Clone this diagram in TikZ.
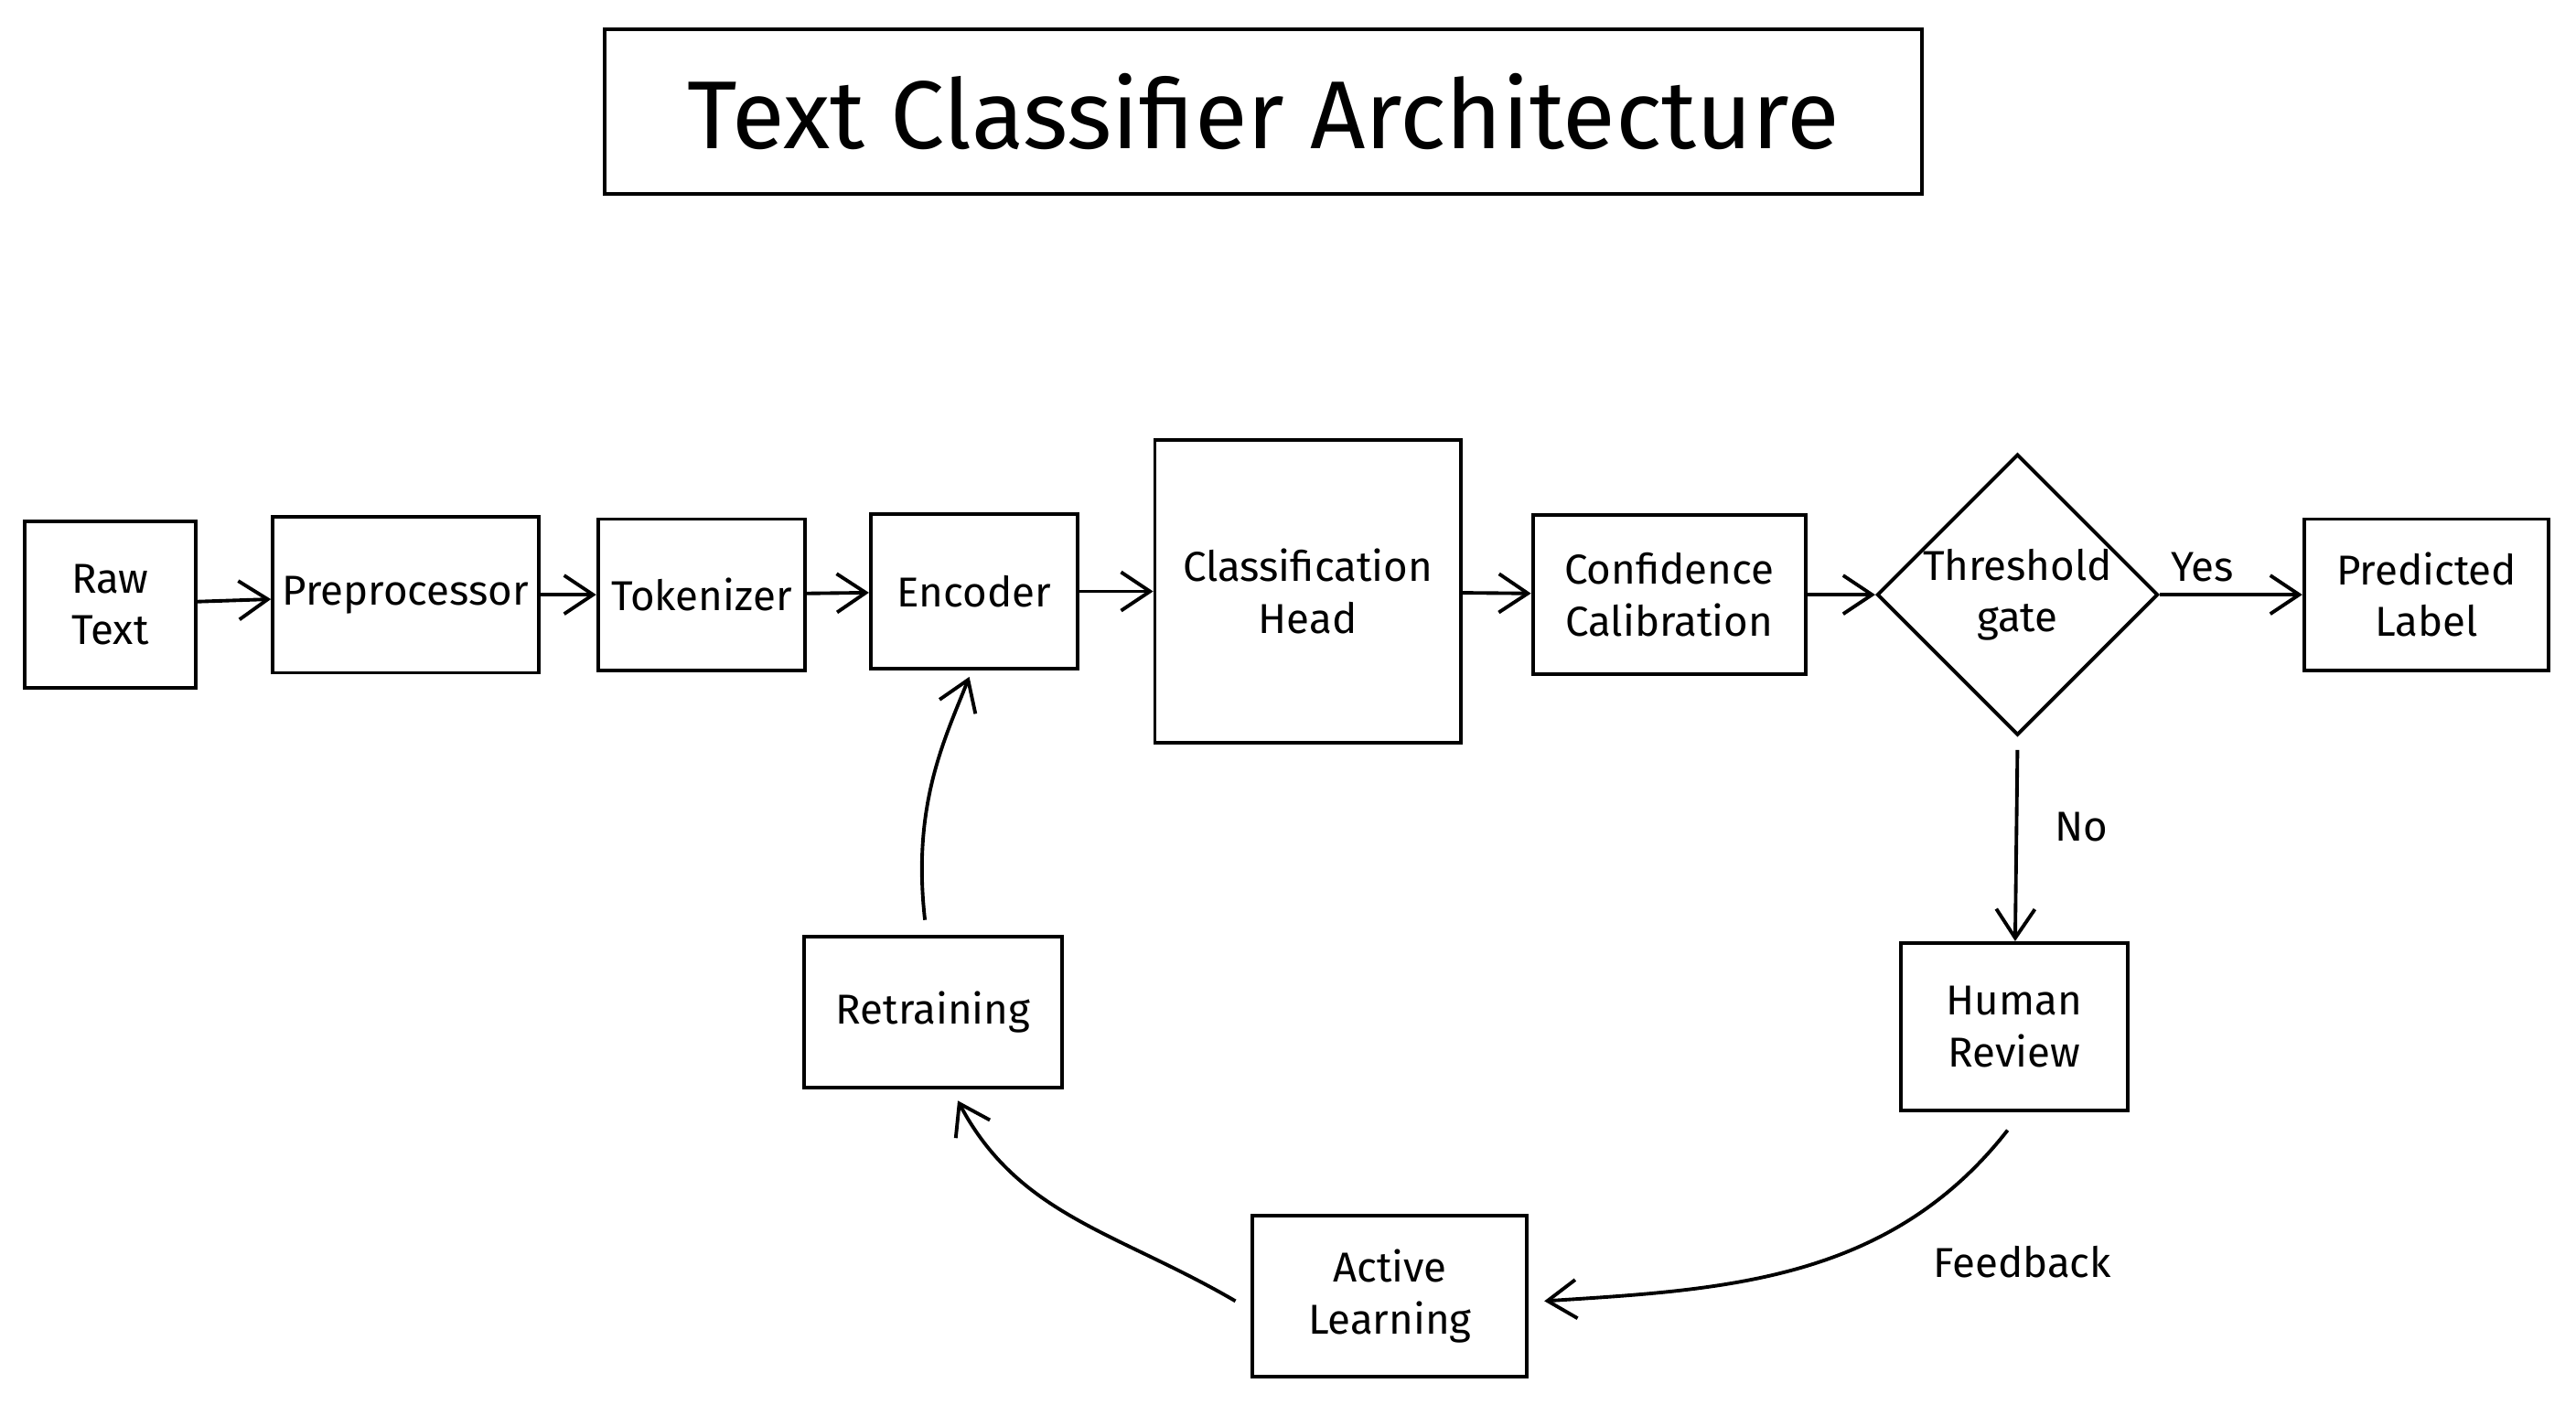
\documentclass[tikz,border=0pt]{standalone}
\usepackage{fontspec}
\setmainfont{Fira Sans}
\usetikzlibrary{arrows.meta,shapes.geometric}
\begin{document}
\begin{tikzpicture}[x=0.01796cm,y=-0.01796cm,
 box/.style={draw,line width=1.1pt,minimum width=#1,inner sep=2pt,align=center,font=\fontsize{13}{16}\selectfont},
 arr/.style={-{Straight Barb[length=9pt,width=12pt]},line width=1.1pt},
 lbl/.style={font=\fontsize{13}{16}\selectfont}]
\useasboundingbox (0,0) rectangle (1568,855);
\node[draw,line width=1.2pt,minimum width=802*0.01796cm,minimum height=100*0.01796cm,font=\fontsize{30}{36}\selectfont] (title) at (769,68) {Text Classifier Architecture};
\node[box=104*0.01796cm,minimum height=101*0.01796cm] (raw) at (67,368) {Raw\\Text};
\node[box=162*0.01796cm,minimum height=95*0.01796cm] (pre) at (247,362) {Preprocessor};
\node[box=126*0.01796cm,minimum height=92*0.01796cm] (tok) at (427,362) {Tokenizer};
\node[box=126*0.01796cm,minimum height=94*0.01796cm] (enc) at (593,360) {Encoder};
\node[box=186*0.01796cm,minimum height=184*0.01796cm] (cls) at (796,360) {Classification\\Head};
\node[box=166*0.01796cm,minimum height=97*0.01796cm] (conf) at (1016,362) {Confidence\\Calibration};
\node[draw,line width=1.1pt,diamond,minimum width=170*0.01796cm,minimum height=160*0.01796cm,inner sep=0pt,align=center,font=\fontsize{13}{16}\selectfont] (gate) at (1228,362) {Threshold\\gate};
\node[box=149*0.01796cm,minimum height=92*0.01796cm] (pred) at (1477,362) {Predicted\\Label};
\node[box=138*0.01796cm,minimum height=102*0.01796cm] (hum) at (1226,625) {Human\\Review};
\node[box=167*0.01796cm,minimum height=98*0.01796cm] (act) at (846,789) {Active\\Learning};
\node[box=157*0.01796cm,minimum height=92*0.01796cm] (ret) at (568,616) {Retraining};
\draw[arr] (raw) -- (pre);
\draw[arr] (pre) -- (tok);
\draw[arr] (tok) -- (enc);
\draw[arr] (enc) -- (cls);
\draw[arr] (cls) -- (conf);
\draw[arr] (conf) -- (gate);
\draw[arr] (gate) -- node[lbl,above,pos=0.3] {Yes} (pred);
\draw[arr] (gate.south) ++(0,8) coordinate (gs) (gs) -- node[lbl,right,xshift=8pt,pos=0.4] {No} (hum);
\coordinate (h1) at (1222,688);
\coordinate (a1) at (940,792);
\draw[arr] (h1) .. controls (1150,780) and (1050,785) .. (a1);
\node[lbl] (fb) at (1231,768) {Feedback};
\coordinate (a2) at (752,792);
\coordinate (r1) at (583,670);
\draw[arr] (a2) .. controls (680,750) and (620,740) .. (r1);
\coordinate (r2) at (563,560);
\coordinate (e1) at (590,412);
\draw[arr] (r2) .. controls (555,490) and (575,450) .. (e1);
\end{tikzpicture}
\end{document}
